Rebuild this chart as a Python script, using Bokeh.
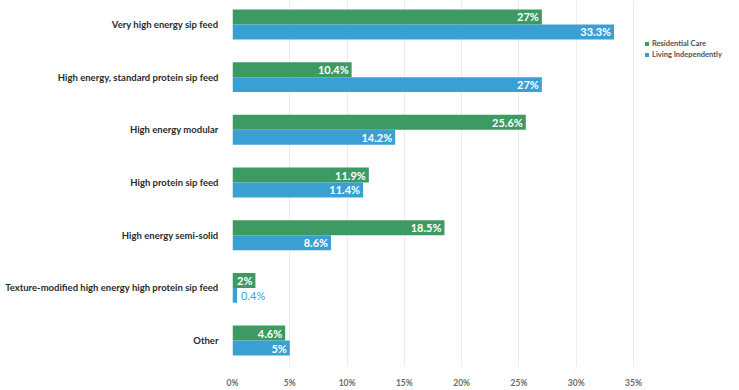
from bokeh.plotting import figure
from bokeh.models import ColumnDataSource, Legend, LegendItem, FixedTicker, Range1d
from bokeh.core.properties import value
from bokeh.embed import file_html
from bokeh.resources import INLINE

categories = [
    "Very high energy sip feed",
    "High energy, standard protein sip feed",
    "High energy modular",
    "High protein sip feed",
    "High energy semi-solid",
    "Texture-modified high energy high protein sip feed",
    "Other",
]
residential = [27, 10.4, 25.6, 11.9, 18.5, 2, 4.6]
independent = [33.3, 27, 14.2, 11.4, 8.6, 0.4, 5]
x_ticks = [0, 5, 10, 15, 20, 25, 30, 35]

GREEN = "#3e9a63"
BLUE = "#3a9fd2"
FONT = "Lato"

n = len(categories)
ypos = [n - 1 - i for i in range(n)]
off = 0.142
bh = 0.284

def fmt(v):
    return ("%g" % v) + "%"

p = figure(width=739, height=390, output_backend="svg", toolbar_location=None,
           x_range=Range1d(0, 44.25), y_range=Range1d(-0.492, 6.4545),
           min_border_left=232, min_border_right=0, min_border_top=0, min_border_bottom=23)
p.outline_line_color = None
p.background_fill_color = "white"

src_r = ColumnDataSource(dict(y=[y + off for y in ypos], v=residential))
src_i = ColumnDataSource(dict(y=[y - off for y in ypos], v=independent))

r1 = p.hbar(y="y", right="v", left=0, height=bh, source=src_r, fill_color=GREEN, line_color=None)
r2 = p.hbar(y="y", right="v", left=0, height=bh, source=src_i, fill_color=BLUE, line_color=None)

for vals, ys, color in [(residential, [y + off for y in ypos], GREEN), (independent, [y - off for y in ypos], BLUE)]:
    inside = [i for i, v in enumerate(vals) if v >= 1]
    outside = [i for i, v in enumerate(vals) if v < 1]
    s_in = ColumnDataSource(dict(x=[vals[i] for i in inside], y=[ys[i] for i in inside], t=[fmt(vals[i]) for i in inside]))
    p.text(x="x", y="y", text="t", source=s_in, text_align="right", text_baseline="middle",
           x_offset=-3, text_color="white", text_font=value(FONT), text_font_style="bold",
           text_font_size="11px")
    if outside:
        s_out = ColumnDataSource(dict(x=[vals[i] for i in outside], y=[ys[i] for i in outside], t=[fmt(vals[i]) for i in outside]))
        p.text(x="x", y="y", text="t", source=s_out, text_align="left", text_baseline="middle",
               x_offset=4, text_color=color, text_font=value(FONT), text_font_style="normal",
               text_font_size="11px")

p.yaxis.ticker = FixedTicker(ticks=ypos)
p.yaxis.major_label_overrides = {y: c for y, c in zip(ypos, categories)}
p.yaxis.axis_line_color = None
p.yaxis.major_tick_line_color = None
p.yaxis.minor_tick_line_color = None
p.yaxis.major_label_text_font = FONT
p.yaxis.major_label_text_font_style = "bold"
p.yaxis.major_label_text_font_size = "9.5px"
p.yaxis.major_label_text_color = "#2b2b2b"
p.yaxis.major_label_standoff = 8

p.xaxis.ticker = FixedTicker(ticks=x_ticks)
p.xaxis.major_label_overrides = {t: "%d%%" % t for t in x_ticks}
p.xaxis.axis_line_color = None
p.xaxis.major_tick_line_color = None
p.xaxis.minor_tick_line_color = None
p.xaxis.major_label_text_font = FONT
p.xaxis.major_label_text_font_style = "bold"
p.xaxis.major_label_text_font_size = "8.5px"
p.xaxis.major_label_text_color = "#6a6a6a"
p.xaxis.major_label_standoff = 5

p.ygrid.grid_line_color = None
p.xgrid.grid_line_color = "#ececec"
p.xgrid.ticker = FixedTicker(ticks=x_ticks)

legend = Legend(items=[LegendItem(label="Residential Care", renderers=[r1]),
                       LegendItem(label="Living Independently", renderers=[r2])],
                location=(412, 307), orientation="vertical",
                label_text_font=FONT, label_text_font_style="bold", label_text_font_size="7.5px",
                label_text_color="#505050", glyph_width=5, glyph_height=5, label_height=8,
                spacing=2, padding=0, margin=0, border_line_color=None, background_fill_alpha=0,
                label_standoff=3)
p.add_layout(legend)

open("out.html", "w").write(file_html(p, INLINE))
